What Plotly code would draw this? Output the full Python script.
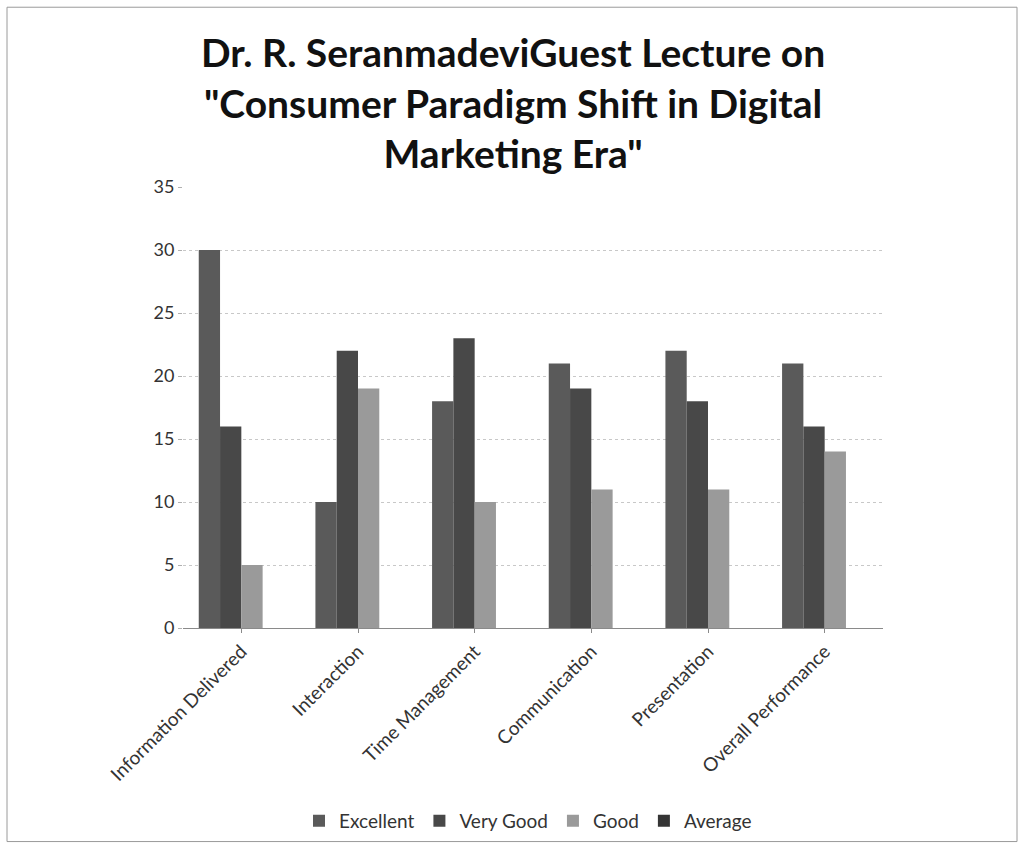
import plotly.graph_objects as go

# Feedback categories and rating counts
categories = [
    "Information Delivered",
    "Interaction",
    "Time Management",
    "Communication",
    "Presentation",
    "Overall Performance",
]
excellent = [30, 10, 18, 21, 22, 21]
very_good = [16, 22, 23, 19, 18, 16]
good = [5, 19, 10, 11, 11, 14]
average = [0, 0, 0, 0, 0, 0]

y_ticks = [0, 5, 10, 15, 20, 25, 30, 35]

series = [
    ("Excellent", excellent, "#5a5a5a"),
    ("Very Good", very_good, "#484848"),
    ("Good", good, "#9a9a9a"),
    ("Average", average, "#353535"),
]

FONT = "Lato, 'Open Sans', sans-serif"
W, H = 1025, 852
L, R, T, B = 183, 142, 187, 221
PW, PH = W - L - R, H - T - B


def px_x(x):
    return (x - L) / PW


def px_y(y):
    return (H - B - y) / PH


fig = go.Figure()
for name, vals, color in series:
    fig.add_trace(go.Bar(
        x=categories, y=vals, name=name,
        marker=dict(color=color, line=dict(width=0)),
    ))

fig.update_layout(
    width=W, height=H,
    paper_bgcolor="white", plot_bgcolor="white",
    barmode="group", bargap=0.27, bargroupgap=0,
    margin=dict(l=L, r=R, t=T, b=B),
    font=dict(family=FONT, color="#333333", size=18),
    legend=dict(
        orientation="h", x=px_x(528), xanchor="center", y=px_y(806), yanchor="top",
        font=dict(family=FONT, size=19, color="#333333"),
        traceorder="normal",
    ),
    showlegend=True,
)

# Chart title
fig.add_annotation(
    text="Dr. R. SeranmadeviGuest Lecture on<br>\"Consumer Paradigm Shift in Digital<br>Marketing Era\"",
    xref="paper", yref="paper", x=px_x(513), y=px_y(26),
    xanchor="center", yanchor="top", showarrow=False,
    font=dict(family=FONT, size=39, color="#111111", weight="bold"),
)

fig.update_xaxes(
    tickangle=-45, showline=True, linecolor="#8a8a8a", linewidth=1,
    ticks="outside", ticklen=4, tickcolor="#8a8a8a",
    tickfont=dict(family=FONT, size=19, color="#333333"),
    showgrid=False,
)
fig.update_yaxes(
    range=[0, 35], tickvals=y_ticks, showline=False,
    ticks="outside", ticklen=4, tickcolor="#b0b0b0",
    gridcolor="#c8c8c8", gridwidth=1, griddash="dot",
    tickfont=dict(family=FONT, size=18, color="#333333"),
    zeroline=False,
)

# Chart frame
fig.add_shape(type="rect", xref="paper", yref="paper",
              x0=px_x(7), x1=px_x(1017), y0=px_y(846), y1=px_y(6),
              line=dict(color="#9a9a9a", width=1))

fig.write_html("out.html")
